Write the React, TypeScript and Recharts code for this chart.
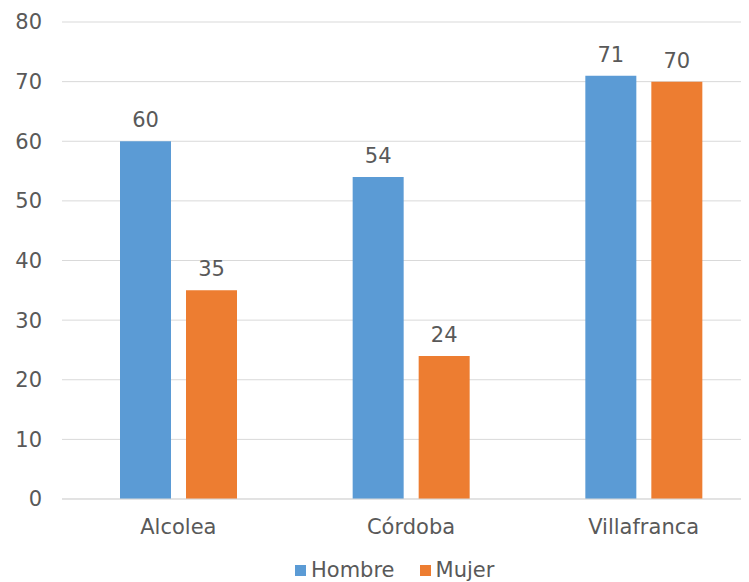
import React from 'react';
import { BarChart, Bar, XAxis, YAxis, CartesianGrid, Legend, LabelList } from 'recharts';

const categories = ['Alcolea', 'Córdoba', 'Villafranca'];
const hombre = [60, 54, 71];
const mujer = [35, 24, 70];
const yTicks = [0, 10, 20, 30, 40, 50, 60, 70, 80];

const data = categories.map((name, i) => ({ name, Hombre: hombre[i], Mujer: mujer[i] }));

const FONT = '"DejaVu Sans", sans-serif';
const TEXT = '#595959';
const BLUE = '#5B9BD5';
const ORANGE = '#ED7D31';

const LegendContent = () => (
  <div
    style={{
      height: 38,
      paddingTop: 14,
      paddingLeft: 287,
      boxSizing: 'border-box',
      display: 'flex',
      alignItems: 'center',
      fontFamily: FONT,
      fontSize: 21,
      color: TEXT,
      lineHeight: '24px',
    }}
  >
    <span style={{ width: 11, height: 11, background: BLUE, display: 'inline-block', marginRight: 5 }} />
    <span style={{ marginRight: 25 }}>Hombre</span>
    <span style={{ width: 11, height: 11, background: ORANGE, display: 'inline-block', marginRight: 5 }} />
    <span>Mujer</span>
  </div>
);

export default function App() {
  return (
    <div style={{ width: 741, height: 574, overflow: 'hidden', background: '#fff' }}>
      <BarChart
        width={752}
        height={574}
        data={data}
        margin={{ top: 14, right: 0, bottom: 0, left: 0 }}
        barGap={15}
        barSize={51}
      >
        <CartesianGrid vertical={false} stroke="#d9d9d9" />
        <XAxis
          dataKey="name"
          height={45}
          axisLine={{ stroke: '#d9d9d9' }}
          tickLine={false}
          tickSize={0}
          tickMargin={20}
          tick={{ fill: TEXT, fontSize: 21, fontFamily: FONT }}
        />
        <YAxis
          width={54}
          domain={[0, 80]}
          ticks={yTicks}
          axisLine={false}
          tickLine={false}
          tickSize={0}
          tickMargin={20}
          tick={{ fill: TEXT, fontSize: 21, fontFamily: FONT }}
        />
        <Legend
          verticalAlign="bottom"
          content={<LegendContent />}
          wrapperStyle={{ left: 0, width: 752 }}
        />
        <Bar dataKey="Hombre" fill={BLUE} isAnimationActive={false}>
          <LabelList dataKey="Hombre" position="top" offset={14} fill={TEXT} fontSize={21} fontFamily={FONT} />
        </Bar>
        <Bar dataKey="Mujer" fill={ORANGE} isAnimationActive={false}>
          <LabelList dataKey="Mujer" position="top" offset={14} fill={TEXT} fontSize={21} fontFamily={FONT} />
        </Bar>
      </BarChart>
    </div>
  );
}
